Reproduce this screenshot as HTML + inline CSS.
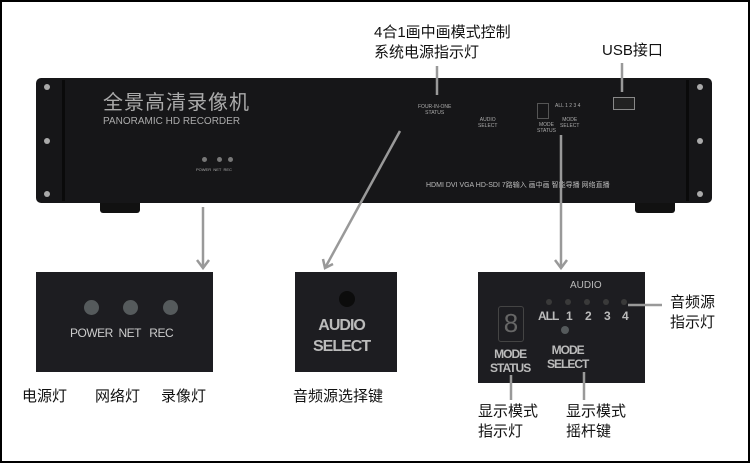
<!DOCTYPE html>
<html><head><meta charset="utf-8"><style>
body{margin:0;width:750px;height:463px;background:#fff;position:relative;overflow:hidden;font-family:"Liberation Sans","Noto Sans CJK SC",sans-serif}
.a{position:absolute}
.cn{position:absolute;font-size:15px;color:#111;line-height:20px;white-space:nowrap}
.box{position:absolute;background:#1d1d21}
.w{color:#ccc;position:absolute;font-size:11px;white-space:nowrap;text-align:center}
.led{position:absolute;border-radius:50%;background:#555a5c}
.n{position:absolute;top:309px;font-size:12px;color:#bbb;font-weight:bold;letter-spacing:-1px}
</style></head><body>
<div class="a" style="left:0;top:0;width:746px;height:459px;border:2px solid #000"></div>
<div class="a" style="left:100px;top:200px;width:40px;height:13px;background:#111;border-radius:3px"></div>
<div class="a" style="left:635px;top:200px;width:40px;height:13px;background:#111;border-radius:3px"></div>
<div class="a" style="left:36px;top:78px;width:676px;height:125px;background:#161618;border-radius:5px"></div>
<div class="a" style="left:62px;top:80px;width:3px;height:121px;background:#0a0a0a"></div>
<div class="a" style="left:686px;top:80px;width:3px;height:121px;background:#0a0a0a"></div>
<div class="led" style="left:44px;top:84px;width:6px;height:6px;background:#aaa"></div>
<div class="led" style="left:44px;top:138px;width:6px;height:6px;background:#aaa"></div>
<div class="led" style="left:44px;top:191px;width:6px;height:6px;background:#aaa"></div>
<div class="led" style="left:697px;top:84px;width:6px;height:6px;background:#aaa"></div>
<div class="led" style="left:697px;top:138px;width:6px;height:6px;background:#aaa"></div>
<div class="led" style="left:697px;top:191px;width:6px;height:6px;background:#aaa"></div>
<div class="w" style="left:103px;top:86px;font-size:20px;color:#aaa;letter-spacing:1px">全景高清录像机</div>
<div class="w" style="left:103px;top:116px;font-size:10px;color:#aaa">PANORAMIC HD RECORDER</div>
<div class="w" style="left:418px;top:104px;font-size:5px;color:#aaa">FOUR-IN-ONE<br>STATUS</div>
<div class="w" style="left:478px;top:117px;font-size:5px;color:#aaa">AUDIO<br>SELECT</div>
<div class="w" style="left:537px;top:122px;font-size:5px;color:#aaa">MODE<br>STATUS</div>
<div class="w" style="left:560px;top:117px;font-size:5px;color:#aaa">MODE<br>SELECT</div>
<div class="w" style="left:555px;top:103px;font-size:5px;color:#aaa">ALL 1 2 3 4</div>
<div class="a" style="left:537px;top:103px;width:10px;height:14px;border:1px solid #555"></div>
<div class="a" style="left:613px;top:97px;width:20px;height:11px;border:1px solid #888;background:#222"></div>
<div class="led" style="left:202px;top:157px;width:5px;height:5px;background:#777"></div>
<div class="led" style="left:217px;top:157px;width:5px;height:5px;background:#777"></div>
<div class="led" style="left:228px;top:157px;width:5px;height:5px;background:#777"></div>
<div class="w" style="left:196px;top:167px;font-size:4px;color:#aaa">POWER &nbsp;NET &nbsp;REC</div>
<div class="w" style="left:426px;top:180px;font-size:7px;color:#bbb">HDMI DVI VGA HD-SDI 7路输入 画中画 智能导播 网络直播</div>
<div class="box" style="left:36px;top:272px;width:177px;height:100px"></div>
<div class="led" style="left:84px;top:300px;width:15px;height:15px"></div>
<div class="led" style="left:123px;top:300px;width:15px;height:15px"></div>
<div class="led" style="left:163px;top:300px;width:15px;height:15px"></div>
<div class="w" style="left:70px;top:326px;font-size:12px;letter-spacing:-0.5px">POWER &nbsp;NET &nbsp; REC</div>
<div class="box" style="left:295px;top:272px;width:102px;height:100px"></div>
<div class="led" style="left:339px;top:291px;width:16px;height:16px;background:#0c0c0c"></div>
<div class="w" style="left:313px;top:315px;font-size:16px;line-height:21px;font-weight:bold;color:#bbb;letter-spacing:-1px">AUDIO<br>SELECT</div>
<div class="box" style="left:478px;top:272px;width:167px;height:111px"></div>
<div class="w" style="left:570px;top:280px;font-size:10px;color:#bbb">AUDIO</div>
<div class="led" style="left:546px;top:299px;width:6px;height:6px;background:#3a3a3a"></div>
<div class="led" style="left:565px;top:299px;width:6px;height:6px;background:#3a3a3a"></div>
<div class="led" style="left:584px;top:299px;width:6px;height:6px;background:#3a3a3a"></div>
<div class="led" style="left:603px;top:299px;width:6px;height:6px;background:#3a3a3a"></div>
<div class="led" style="left:621px;top:299px;width:6px;height:6px;background:#3a3a3a"></div>
<div class="n" style="left:538px">ALL</div>
<div class="n" style="left:566px">1</div>
<div class="n" style="left:585px">2</div>
<div class="n" style="left:604px">3</div>
<div class="n" style="left:622px">4</div>
<div class="a" style="left:498px;top:306px;width:24px;height:34px;border:1px solid #444;border-radius:3px;color:#666;font-size:26px;text-align:center;line-height:32px">8</div>
<div class="led" style="left:561px;top:326px;width:8px;height:8px"></div>
<div class="w" style="left:490px;top:347px;font-size:12px;line-height:14px;font-weight:bold;color:#bbb;letter-spacing:-1px">MODE<br>STATUS</div>
<div class="w" style="left:547px;top:343px;font-size:12px;line-height:14px;font-weight:bold;color:#bbb;letter-spacing:-1px">MODE<br>SELECT</div>
<svg class="a" style="left:0;top:0" width="750" height="463">
<g stroke="#999" stroke-width="2.5" fill="none">
<line x1="437" y1="66" x2="437" y2="95"/>
<line x1="622" y1="63" x2="622" y2="92"/>
<line x1="203" y1="207" x2="203" y2="268"/><polyline points="197,260 203,268 209,260"/>
<line x1="400" y1="131" x2="325" y2="268"/><polyline points="323,259 325,268 333,264"/>
<line x1="561" y1="135" x2="561" y2="268"/><polyline points="555,260 561,268 567,260"/>
<line x1="628" y1="305" x2="662" y2="305"/>
<line x1="511" y1="375" x2="511" y2="400"/>
<line x1="584" y1="372" x2="584" y2="400"/>
</g></svg>
<div class="cn" style="left:374px;top:23px">4合1画中画模式控制<br>系统电源指示灯</div>
<div class="cn" style="left:602px;top:41px">USB接口</div>
<div class="cn" style="left:22px;top:387px">电源灯</div>
<div class="cn" style="left:95px;top:387px">网络灯</div>
<div class="cn" style="left:161px;top:387px">录像灯</div>
<div class="cn" style="left:293px;top:387px">音频源选择键</div>
<div class="cn" style="left:478px;top:402px">显示模式<br>指示灯</div>
<div class="cn" style="left:566px;top:402px">显示模式<br>摇杆键</div>
<div class="cn" style="left:670px;top:293px">音频源<br>指示灯</div>
</body></html>
